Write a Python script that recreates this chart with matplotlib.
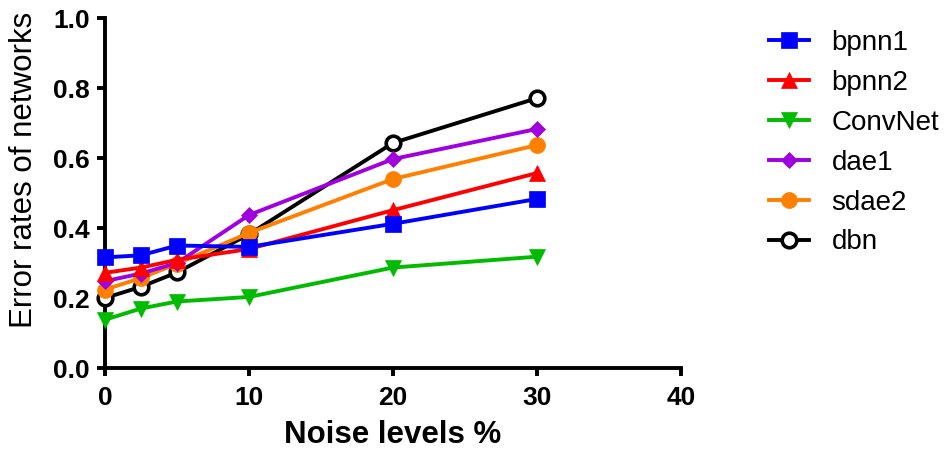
import matplotlib
matplotlib.use("Agg")
import matplotlib.pyplot as plt

plt.rcParams['font.family'] = ['Liberation Sans', 'DejaVu Sans']

# Noise levels (%) and error rates per network
noise = [0, 2.5, 5, 10, 20, 30]
bpnn1 = [0.316, 0.322, 0.350, 0.346, 0.412, 0.483]
bpnn2 = [0.272, 0.287, 0.309, 0.340, 0.451, 0.557]
convnet = [0.138, 0.170, 0.190, 0.203, 0.287, 0.318]
dae1 = [0.248, 0.270, 0.300, 0.437, 0.597, 0.683]
sdae2 = [0.224, 0.257, 0.298, 0.386, 0.540, 0.637]
dbn = [0.200, 0.232, 0.273, 0.382, 0.643, 0.771]

series = [
    ("bpnn1", bpnn1, "#0000FF", "s", 11),
    ("bpnn2", bpnn2, "#FF0000", "^", 11.5),
    ("ConvNet", convnet, "#00BB00", "v", 11.5),
    ("dae1", dae1, "#A000E0", "D", 8),
    ("sdae2", sdae2, "#FF8000", "o", 11.5),
    ("dbn", dbn, "#000000", "o", 10.5),
]

fig = plt.figure(figsize=(9.53, 4.5), dpi=100)
ax = fig.add_axes([105 / 953, 1 - 368 / 450, (681 - 105) / 953, (368 - 18) / 450])

n = len(series)
for i, (name, vals, color, marker, ms) in enumerate(series):
    kw = dict(color=color, marker=marker, markersize=ms, linewidth=2.8,
              label=name, zorder=10 + n - i, clip_on=False)
    if name == "dbn":
        kw.update(markerfacecolor="white", markeredgecolor=color, markeredgewidth=2.6)
    else:
        kw.update(markerfacecolor=color, markeredgecolor=color, markeredgewidth=0.5)
    ax.plot(noise, vals, **kw)

ax.set_xlim(0, 40)
ax.set_ylim(0, 1.0)
ax.set_xticks([0, 10, 20, 30, 40])
ax.set_yticks([0.0, 0.2, 0.4, 0.6, 0.8, 1.0])
ax.set_yticklabels(["0.0", "0.2", "0.4", "0.6", "0.8", "1.0"])

for side in ("top", "right"):
    ax.spines[side].set_visible(False)
for side in ("left", "bottom"):
    ax.spines[side].set_linewidth(2.8)
ax.tick_params(axis="both", direction="out", length=6, width=2.8, labelsize=19, pad=5)
ax.tick_params(axis="x", pad=7)
for lbl in ax.get_xticklabels() + ax.get_yticklabels():
    lbl.set_fontweight("bold")

ax.set_xlabel("Noise levels %", fontsize=22.5, fontweight="bold", labelpad=7)
ax.set_ylabel("Error rates of networks", fontsize=22.5)
ax.yaxis.set_label_coords(-0.115, 0.566)

fig.legend(loc="upper left", bbox_to_anchor=(769 / 953, 1 - 30 / 450),
           frameon=False, fontsize=20, handlelength=1.45, handletextpad=0.8,
           labelspacing=0.5, borderpad=0, borderaxespad=0)

fig.savefig("out.png", dpi=100)
